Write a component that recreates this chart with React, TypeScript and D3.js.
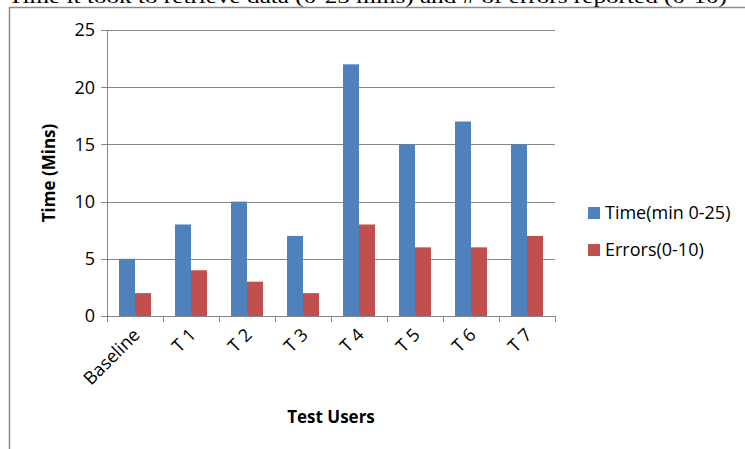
import React from "react";
import * as d3 from "d3";

const categories = ["Baseline", "T1", "T2", "T3", "T4", "T5", "T6", "T7"];
const timeValues = [5, 8, 10, 7, 22, 15, 17, 15];
const errorValues = [2, 4, 3, 2, 8, 6, 6, 7];
const seriesNames = ["Time(min 0-25)", "Errors(0-10)"];
const yTicks = [0, 5, 10, 15, 20, 25];
const titleText = "Time it took to retrieve data (0-25 mins) and # of errors reported (0-10)";
const xTitle = "Test Users";
const yTitle = "Time (Mins)";

const W = 745;
const H = 449;
const colors = ["#4F81BD", "#C0504D"];
const font = "'Open Sans', 'DejaVu Sans', sans-serif";

export default function App() {
  const left = 107, right = 555, top = 30, bottom = 316;
  const x = d3.scaleBand().domain(categories).range([left, right]).paddingInner(0).paddingOuter(0);
  const y = d3.scaleLinear().domain([0, 25]).range([bottom, top]);
  const bw = x.bandwidth();
  const barW = bw / 3.5;
  const offset = (bw - 2 * barW) / 2;
  const series = [timeValues, errorValues];

  return (
    <svg width={W} height={H} style={{ position: "absolute", left: 0, top: 0, background: "#fff" }}>
      <text x={8} y={3} fontFamily="'Liberation Serif', 'Times New Roman', serif" fontSize={19} textLength={719} lengthAdjust="spacingAndGlyphs" fill="#000">{titleText}</text>
      <line x1={9.5} y1={7} x2={9.5} y2={H} stroke="#8c8c8c" strokeWidth={1.5} />
      <line x1={9} y1={7.5} x2={W} y2={7.5} stroke="#8c8c8c" strokeWidth={1.5} />

      {yTicks.map((t) => (
        <g key={t}>
          {t > 0 && <line x1={left} x2={right} y1={Math.round(y(t)) + 0.5} y2={Math.round(y(t)) + 0.5} stroke="#868686" strokeWidth={1} />}
          <line x1={left - 6} x2={left} y1={Math.round(y(t)) + 0.5} y2={Math.round(y(t)) + 0.5} stroke="#868686" strokeWidth={1} />
          <text x={left - 12} y={y(t)} dy="0.36em" textAnchor="end" fontFamily={font} fontSize={18} fill="#000">{t}</text>
        </g>
      ))}
      <line x1={left + 0.5} x2={left + 0.5} y1={top} y2={bottom} stroke="#868686" />

      {categories.map((c, i) => (
        <g key={c}>
          {series.map((vals, s) => (
            <rect key={s} x={(x(c) as number) + offset + s * barW} y={y(vals[i])} width={barW} height={bottom - y(vals[i])} fill={colors[s]} />
          ))}
        </g>
      ))}

      <line x1={left} x2={right} y1={bottom + 0.5} y2={bottom + 0.5} stroke="#868686" />
      {categories.concat([""]).map((c, i) => {
        const xx = Math.round(left + i * bw) + 0.5;
        return <line key={i} x1={xx} x2={xx} y1={bottom} y2={bottom + 6} stroke="#868686" />;
      })}
      {categories.map((c) => {
        const cx = (x(c) as number) + bw / 2 + 6;
        const cy = bottom + 20;
        return (
          <text key={c} x={cx} y={cy} textAnchor="end" fontFamily={font} fontSize={18} fill="#000" transform={`rotate(-45 ${cx} ${cy})`}>{c.replace(/^T(\d)$/, "T $1")}</text>
        );
      })}

      <text x={(left + right) / 2} y={423} textAnchor="middle" fontFamily={font} fontWeight="bold" fontSize={17} fill="#000">{xTitle}</text>
      <text transform={`translate(55 173) rotate(-90)`} textAnchor="middle" fontFamily={font} fontWeight="bold" fontSize={17} fill="#000">{yTitle}</text>

      {seriesNames.map((n, i) => (
        <g key={n} transform={`translate(588 ${207 + i * 37})`}>
          <rect x={0} y={0} width={12} height={12} fill={colors[i]} />
          <text x={17} y={6} dy="0.36em" fontFamily={font} fontSize={18} fill="#000">{n}</text>
        </g>
      ))}
    </svg>
  );
}
